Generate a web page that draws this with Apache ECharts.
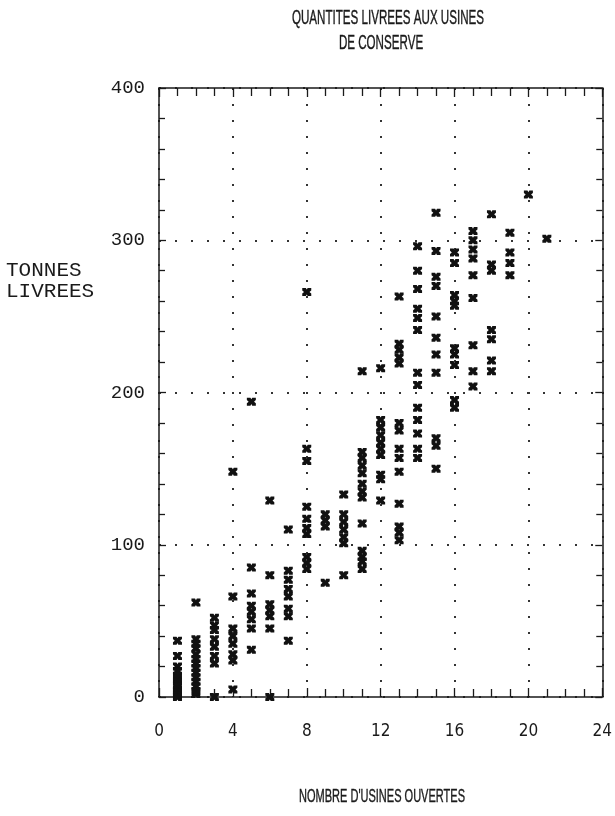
<!DOCTYPE html>
<html>
<head>
<meta charset="utf-8">
<script src="https://cdn.jsdelivr.net/npm/echarts@6/dist/echarts.min.js"></script>
<style>
  html, body { margin: 0; padding: 0; background: #fff; }
  #chart { width: 615px; height: 816px; }
</style>
</head>
<body>
<div id="chart"></div>
<script>
// Number of canneries open on a given day
const openPlants = [1, 2, 3, 4, 5, 6, 7, 8, 9, 10, 11, 12, 13, 14, 15, 16, 17, 18, 19, 20, 21];

// Tonnes delivered, one list per number of open canneries
const tonnesByPlants = [
  [37, 27, 20, 17, 14, 12, 10, 8, 7, 5, 4, 3, 2, 1, 0],
  [62, 38, 35, 32, 28, 25, 22, 19, 16, 13, 10, 7, 4, 2],
  [52, 47, 44, 38, 33, 27, 22, 0],
  [148, 66, 45, 40, 35, 28, 24, 5],
  [194, 85, 68, 60, 56, 51, 45, 31],
  [129, 80, 61, 57, 53, 45, 0],
  [110, 83, 77, 71, 66, 58, 53, 37],
  [266, 163, 155, 125, 117, 111, 107, 92, 88, 84],
  [120, 116, 112, 75],
  [133, 120, 115, 110, 105, 101, 80],
  [214, 161, 157, 152, 147, 140, 135, 131, 114, 96, 92, 89, 84],
  [216, 182, 177, 172, 167, 163, 159, 146, 143, 129],
  [263, 232, 228, 223, 219, 180, 175, 163, 157, 148, 127, 112, 108, 103],
  [296, 280, 268, 255, 249, 241, 213, 205, 190, 182, 173, 163, 157],
  [318, 293, 276, 270, 250, 236, 225, 213, 170, 165, 150],
  [292, 285, 264, 260, 257, 229, 225, 218, 195, 190],
  [306, 300, 294, 288, 277, 262, 231, 214, 204],
  [317, 284, 280, 241, 235, 221, 214],
  [305, 292, 285, 277],
  [330],
  [301]
];

// Axis ranges and tick steps
const xRange = [0, 24];
const xStep = 4;
const yRange = [0, 400];
const yStep = 100;

const titleLines = ['QUANTITES LIVREES AUX USINES', 'DE CONSERVE'];
const xTitle = "NOMBRE D'USINES OUVERTES";
const yTitle = ['TONNES', 'LIVREES'];

const points = [];
openPlants.forEach((n, i) => {
  tonnesByPlants[i].forEach(t => points.push([n, t]));
});

const narrowFont = "'Liberation Sans Narrow','DejaVu Sans Condensed','Liberation Sans',sans-serif";
const monoFont = "'Liberation Mono','DejaVu Sans Mono',monospace";
const ink = '#1a1a1a';

// Heavy "x" glyph used as the plotting mark
const markPath = 'path://M0,0H4L5,2L6,0H10V3L8,5L10,7V10H6L5,8L4,10H0V7L2,5L0,3Z';

function frameAxis(extra) {
  return Object.assign({
    type: 'value',
    axisLine: { show: true, onZero: false, lineStyle: { color: ink, width: 1.5 } },
    axisTick: { show: true, inside: true, length: 9, lineStyle: { color: ink, width: 1.3 } },
    minorTick: { show: true, splitNumber: 4, length: 8, lineStyle: { color: ink, width: 1.3 } },
    splitLine: { show: false },
    minorSplitLine: { show: false }
  }, extra);
}

// Condensed caption text, squeezed horizontally around its centre
function caption(text, x, y, size, squeeze) {
  return {
    type: 'text', x: x, y: y, scaleX: squeeze,
    style: { text: text, fontFamily: "'Liberation Sans',sans-serif", fontSize: size, fill: ink,
             stroke: ink, lineWidth: 0.4, textAlign: 'center', textVerticalAlign: 'middle' }
  };
}

const chart = echarts.init(document.getElementById('chart'), null, { renderer: 'canvas' });

chart.setOption({
  backgroundColor: '#fff',
  animation: false,
  grid: { left: 159, right: 10, top: 88, bottom: 119, containLabel: false },
  xAxis: [
    frameAxis({
      position: 'bottom',
      min: xRange[0], max: xRange[1], interval: xStep,
      axisLabel: { show: true, margin: 26, fontFamily: narrowFont, fontSize: 17, color: ink },
      splitLine: { show: true, lineStyle: { color: '#333', width: 2, type: [2, 14] } }
    }),
    frameAxis({
      position: 'top',
      min: xRange[0], max: xRange[1], interval: xStep,
      axisLabel: { show: false }
    })
  ],
  yAxis: [
    frameAxis({
      position: 'left',
      min: yRange[0], max: yRange[1], interval: yStep,
      axisTick: { show: true, inside: true, length: 7, lineStyle: { color: ink, width: 1.3 } },
      minorTick: { show: true, splitNumber: 5, length: 6, lineStyle: { color: ink, width: 1.3 } },
      axisLabel: { show: true, margin: 14, fontFamily: monoFont, fontSize: 19, color: ink },
      splitLine: { show: true, lineStyle: { color: '#333', width: 2, type: [2, 14] } }
    }),
    frameAxis({
      position: 'right',
      min: yRange[0], max: yRange[1], interval: yStep,
      axisTick: { show: true, inside: true, length: 7, lineStyle: { color: ink, width: 1.3 } },
      minorTick: { show: true, splitNumber: 5, length: 6, lineStyle: { color: ink, width: 1.3 } },
      axisLabel: { show: false }
    })
  ],
  series: [{
    type: 'scatter',
    xAxisIndex: 0,
    yAxisIndex: 0,
    data: points,
    symbol: markPath,
    symbolSize: [9, 8],
    itemStyle: { color: '#111', opacity: 1 },
    z: 5
  }],
  graphic: [
    caption(titleLines[0], 388, 18, 20, 0.58),
    caption(titleLines[1], 381, 43, 20, 0.58),
    caption(xTitle, 382, 797, 19, 0.58),
    {
      type: 'text', x: 6, y: 270,
      style: { text: yTitle[0], fontFamily: monoFont, fontSize: 21, fill: ink,
               textAlign: 'left', textVerticalAlign: 'middle' }
    },
    {
      type: 'text', x: 6, y: 291,
      style: { text: yTitle[1], fontFamily: monoFont, fontSize: 21, fill: ink,
               textAlign: 'left', textVerticalAlign: 'middle' }
    }
  ]
});
</script>
</body>
</html>
